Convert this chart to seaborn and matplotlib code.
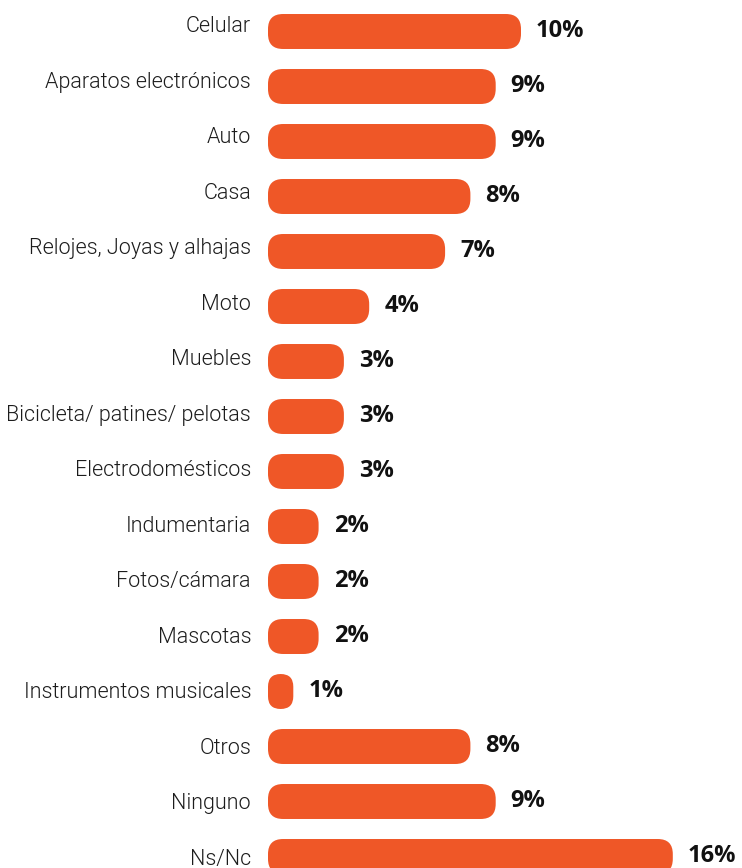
import matplotlib
matplotlib.use("Agg")
import matplotlib.pyplot as plt
import seaborn as sns
import pandas as pd
from matplotlib.patches import FancyBboxPatch
from matplotlib.transforms import IdentityTransform
from matplotlib import font_manager

categories = ["Celular", "Aparatos electrónicos", "Auto", "Casa",
              "Relojes, Joyas y alhajas", "Moto", "Muebles",
              "Bicicleta/ patines/ pelotas", "Electrodomésticos",
              "Indumentaria", "Fotos/cámara", "Mascotas",
              "Instrumentos musicales", "Otros", "Ninguno", "Ns/Nc"]
values = [10, 9, 9, 8, 7, 4, 3, 3, 3, 2, 2, 2, 1, 8, 9, 16]
value_labels = ["10%", "9%", "9%", "8%", "7%", "4%", "3%", "3%", "3%",
                "2%", "2%", "2%", "1%", "8%", "9%", "16%"]

df = pd.DataFrame({"cat": categories, "val": values})

sns.set_theme(style="white")
avail = {f.name for f in font_manager.fontManager.ttflist}
label_font = "Roboto" if "Roboto" in avail else "DejaVu Sans"
value_font = "Open Sans" if "Open Sans" in avail else "DejaVu Sans"

W, H = 742, 868
fig = plt.figure(figsize=(W / 100, H / 100), dpi=100)
fig.patch.set_facecolor("white")

px_per_unit = 25.3
left_px = 268
ax_w_px = W - left_px
top_px = 31.5 - 27.5
bot_px = 856.5 + 27.5
ax = fig.add_axes([left_px / W, (H - bot_px) / H, ax_w_px / W, (bot_px - top_px) / H])

color = "#EF5727"
sns.barplot(data=df, y="cat", x="val", orient="h", color=color,
            width=0.636, ax=ax, saturation=1)
ax.set_xlim(0, ax_w_px / px_per_unit)
ax.set_ylim(len(categories) - 0.5, -0.5)
ax.set_xlabel("")
ax.set_ylabel("")
ax.set_xticks([])
ax.set_yticks([])
for s in ax.spines.values():
    s.set_visible(False)

PT = 72 / 100  # points per pixel
n = len(categories)
for i, cat in enumerate(categories):
    drop_px = 1 + 7 * i / (n - 1)
    ax.annotate(cat, xy=(0, i), xytext=(-17 * PT, -drop_px * PT),
                textcoords="offset points", ha="right", va="baseline",
                fontsize=15.5, fontweight=300, family=label_font,
                color="#1c1c1c", annotation_clip=False)

fig.canvas.draw()
patches = list(ax.patches)
for p in patches:
    bb = p.get_window_extent()
    w, h = bb.width, bb.height
    r = min(15, w / 2, h / 2)
    fb = FancyBboxPatch((bb.x0, bb.y0), w, h,
                        boxstyle=f"round,pad=0,rounding_size={r}",
                        transform=IdentityTransform(), facecolor=color,
                        edgecolor="none", zorder=2)
    fig.patches.append(fb)
    fb.set_figure(fig)
    p.set_visible(False)

for i, (v, lab) in enumerate(zip(values, value_labels)):
    ax.annotate(lab, xy=(v, i), xytext=(15 * PT, -5.5 * PT), textcoords="offset points",
                ha="left", va="baseline", fontsize=17, fontweight="bold",
                family=value_font, color="#111111", annotation_clip=False)

fig.savefig("out.png", dpi=100, facecolor="white")
